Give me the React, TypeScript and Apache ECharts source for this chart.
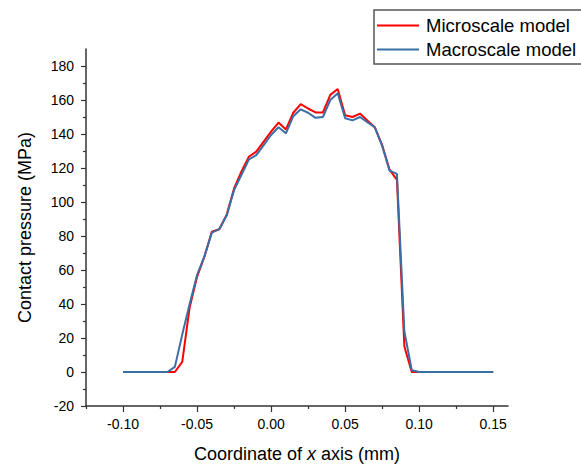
import React, { useEffect, useRef } from "react";
import * as echarts from "echarts";

const xValues = [
  -0.1, -0.07, -0.065, -0.06, -0.055, -0.05, -0.045, -0.04, -0.035, -0.03,
  -0.025, -0.02, -0.015, -0.01, -0.005, 0, 0.005, 0.01, 0.015, 0.02,
  0.025, 0.03, 0.035, 0.04, 0.045, 0.05, 0.055, 0.06, 0.065, 0.07,
  0.075, 0.08, 0.085, 0.09, 0.095, 0.1, 0.15,
];
const microscale = [
  0, 0, 0, 6, 38, 56, 68, 82.5, 84, 92.5,
  108, 118, 126.6, 129.6, 135.5, 141.4, 146.7, 142.7, 152.5, 157.6,
  155, 152.7, 152.7, 163, 166.5, 151, 150, 152, 148, 144,
  133.5, 119, 113, 15, 0, 0, 0,
];
const macroscale = [
  0, 0, 3, 22, 40, 57, 68, 82, 84, 92,
  107, 116, 125, 127.6, 133.5, 139.4, 144, 140.4, 150.5, 154.5,
  152.5, 149.5, 150, 160, 164, 149.3, 148, 150, 147, 144,
  133, 118.5, 116.5, 24, 1, 0, 0,
];
const xTickLabels = [-0.1, -0.05, 0, 0.05, 0.1, 0.15];
const xMinorTicks = [-0.125, -0.075, -0.025, 0.025, 0.075, 0.125];
const yTickLabels = [-20, 0, 20, 40, 60, 80, 100, 120, 140, 160, 180];
const yMinorTicks = [-10, 10, 30, 50, 70, 90, 110, 130, 150, 170];
const seriesNames = ["Microscale model", "Macroscale model"];

const FONT = "Liberation Sans";
const AXIS_COLOR = "#333";
const X_MIN = -0.125;
const X_MAX = 0.16;
const Y_MIN = -20;
const Y_MAX = 190;
const RED = "#ff0000";
const BLUE = "#3a6ea5";

export default function App() {
  const ref = useRef<HTMLDivElement>(null);
  useEffect(() => {
    if (!ref.current) return;
    const chart = echarts.init(ref.current, null, { renderer: "svg" });
    const hiddenAxisBase = {
      type: "value" as const,
      axisLine: { show: false, onZero: false },
      axisLabel: { show: false },
      splitLine: { show: false },
    };
    chart.setOption({
      animation: false,
      backgroundColor: "#fff",
      textStyle: { fontFamily: FONT },
      grid: {
        left: 86,
        top: 49,
        right: 73,
        bottom: 58,
        containLabel: false,
        outerBoundsMode: "none",
      },
      legend: {
        orient: "vertical",
        left: 374,
        top: 10,
        padding: [6, 8, 5, 3],
        itemWidth: 42,
        itemHeight: 2,
        itemGap: 5,
        icon: "rect",
        borderColor: "#555",
        borderWidth: 1.5,
        borderRadius: 0,
        backgroundColor: "#fff",
        data: seriesNames,
        textStyle: { fontFamily: FONT, fontSize: 18.5, color: "#000", padding: [0, 0, 0, 2] },
      },
      xAxis: [
        {
          type: "value",
          min: X_MIN,
          max: X_MAX,
          name: "Coordinate of {i|x} axis (mm)",
          nameLocation: "middle",
          nameGap: 39,
          nameTextStyle: {
            fontFamily: FONT,
            fontSize: 18,
            lineHeight: 18,
            color: "#000",
            rich: { i: { fontStyle: "italic", fontFamily: FONT, fontSize: 18, lineHeight: 18, color: "#000" } },
          },
          axisLine: { show: true, onZero: false, lineStyle: { color: AXIS_COLOR, width: 1.5 } },
          axisTick: { show: true, inside: false, length: 6, customValues: xTickLabels, lineStyle: { color: AXIS_COLOR, width: 1.2 } },
          axisLabel: {
            customValues: xTickLabels,
            formatter: (v: number) => v.toFixed(2),
            margin: 11,
            fontFamily: FONT,
            fontSize: 14,
            color: "#000",
          },
          splitLine: { show: false },
        },
        {
          ...hiddenAxisBase,
          min: X_MIN,
          max: X_MAX,
          position: "bottom",
          axisTick: { show: true, inside: false, length: 3, customValues: xMinorTicks, lineStyle: { color: AXIS_COLOR, width: 1.2 } },
        },
      ],
      yAxis: [
        {
          type: "value",
          min: Y_MIN,
          max: Y_MAX,
          name: "Contact pressure (MPa)",
          nameLocation: "middle",
          nameGap: 52,
          nameTextStyle: { fontFamily: FONT, fontSize: 18, color: "#000" },
          axisLine: { show: true, onZero: false, lineStyle: { color: AXIS_COLOR, width: 1.5 } },
          axisTick: { show: true, inside: false, length: 5, customValues: yTickLabels, lineStyle: { color: AXIS_COLOR, width: 1.2 } },
          axisLabel: {
            customValues: yTickLabels,
            margin: 12,
            fontFamily: FONT,
            fontSize: 14,
            color: "#000",
          },
          splitLine: { show: false },
        },
        {
          ...hiddenAxisBase,
          min: Y_MIN,
          max: Y_MAX,
          position: "left",
          axisTick: { show: true, inside: false, length: 3, customValues: yMinorTicks, lineStyle: { color: AXIS_COLOR, width: 1.2 } },
        },
      ],
      series: [
        {
          name: seriesNames[0],
          type: "line",
          showSymbol: false,
          symbol: "none",
          xAxisIndex: 0,
          yAxisIndex: 0,
          lineStyle: { color: RED, width: 2 },
          itemStyle: { color: RED },
          data: xValues.map((x, i) => [x, microscale[i]]),
        },
        {
          name: seriesNames[1],
          type: "line",
          showSymbol: false,
          symbol: "none",
          xAxisIndex: 0,
          yAxisIndex: 0,
          lineStyle: { color: BLUE, width: 2 },
          itemStyle: { color: BLUE },
          data: xValues.map((x, i) => [x, macroscale[i]]),
        },
      ],
    });
    return () => chart.dispose();
  }, []);
  return (
    <div
      ref={ref}
      style={{ position: "fixed", left: 0, top: 0, width: 581, height: 464 }}
    />
  );
}
